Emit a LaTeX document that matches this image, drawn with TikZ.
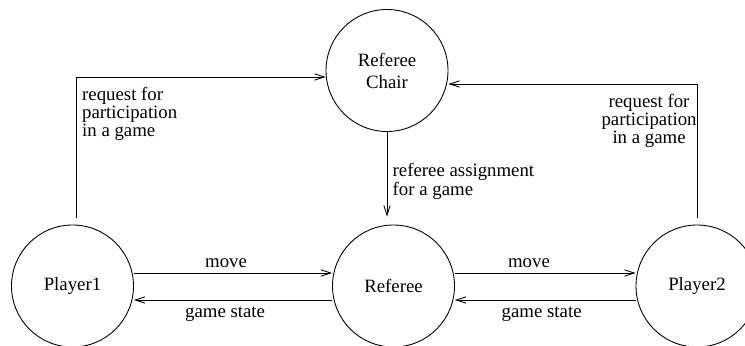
\documentclass[tikz,border=0pt]{standalone}
\usepackage{fontspec}
\setmainfont{Liberation Serif}
\newfontfamily\labelfont{Liberation Serif}
\usepackage{tikz}
\usetikzlibrary{arrows.meta}

\begin{document}
\begin{tikzpicture}[
  line width = 0.5pt,
  >={Straight Barb[length=5.5pt, width=3.6pt]},
  agent/.style = {draw, circle, minimum size = 2.44cm, inner sep = 0pt,
    align = center, font = \labelfont\fontsize{10.7}{12.5}\selectfont},
  msg/.style = {inner sep = 1pt, font = \labelfont\fontsize{10.7}{8.6}\selectfont}
]
\useasboundingbox (0,0) rectangle (14.9,6.9);

\node[agent] (chair) at (7.74,5.49) {Referee\\Chair};
\node[agent] (player1) at (1.45,1.18) {Player1};
\node[agent] (referee) at (7.87,1.18) {Referee};
\node[agent] (player2) at (13.94,1.18) {Player2};

\coordinate (p1top) at ([shift={(0.08,0.14)}]player1.north);
\coordinate (p2top) at ([yshift=0.14cm]player2.north);
\coordinate (reftop) at ([yshift=0.16cm]referee.north);

\draw[->] (p1top) |- node[msg, below right, align=left, xshift=2pt, yshift=-4.5pt]
  {request for\\participation\\in a game} ([yshift=-0.13cm]chair.west);
\draw[->] (p2top) |- node[msg, below left, align=center, xshift=1pt, yshift=-4.5pt]
  {request for\\participation\\in a game} ([yshift=-0.27cm]chair.east);
\draw[->] (chair.south) -- node[msg, right, align=left, pos=0.58, xshift=2pt]
  {referee assignment\\for a game} (chair.south |- reftop);

\draw[->] ([yshift=0.26cm]player1.east) -- node[msg, above=1.8pt, pos=0.465] {move}
  ([yshift=0.26cm]referee.west);
\draw[->] ([yshift=-0.28cm]referee.west) -- node[msg, below=2.5pt, pos=0.54] {game state}
  ([yshift=-0.28cm]player1.east);
\draw[->] ([yshift=0.26cm]referee.east) -- node[msg, above=1.8pt, pos=0.41] {move}
  ([yshift=0.26cm]player2.west);
\draw[->] ([yshift=-0.28cm]player2.west) -- node[msg, below=2.5pt, pos=0.52] {game state}
  ([yshift=-0.28cm]referee.east);
\end{tikzpicture}
\end{document}
